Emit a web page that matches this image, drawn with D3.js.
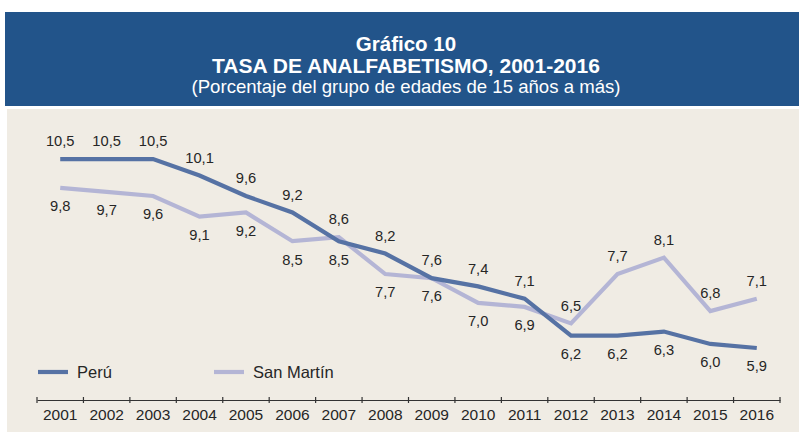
<!DOCTYPE html>
<html>
  <head>
    <meta charset="utf-8">
    <title>Tasa de analfabetismo</title>
    <script src="https://cdnjs.cloudflare.com/ajax/libs/d3/7.8.5/d3.min.js"></script>
    <style>
      body { margin: 0; background: #fff; }
      text { font-family: "Liberation Sans", Arial, sans-serif; }
    </style>
  </head>
  <body>
    <script>
      var years = ["2001","2002","2003","2004","2005","2006","2007","2008",
                   "2009","2010","2011","2012","2013","2014","2015","2016"];
      var peru = [10.5, 10.5, 10.5, 10.1, 9.6, 9.2, 8.5, 8.2, 7.6, 7.4, 7.1, 6.2, 6.2, 6.3, 6.0, 5.9];
      var sanMartin = [9.8, 9.7, 9.6, 9.1, 9.2, 8.5, 8.6, 7.7, 7.6, 7.0, 6.9, 6.5, 7.7, 8.1, 6.8, 7.1];
      // label above (-1) or below (+1) the point
      var peruPos = [-1,-1,-1,-1,-1,-1, 1,-1,-1,-1,-1, 1, 1, 1, 1, 1];
      var smPos   = [ 1, 1, 1, 1, 1, 1,-1, 1, 1, 1, 1,-1,-1,-1,-1,-1];

      var W = 799, H = 432;
      var svg = d3.select("body").append("svg")
        .attr("width", W)
        .attr("height", H);

      // header band
      svg.append("rect").attr("x", 5).attr("y", 12).attr("width", W - 5).attr("height", 94)
        .attr("fill", "#22548a");
      svg.append("rect").attr("x", 7).attr("y", 109).attr("width", W - 7).attr("height", H - 109)
        .attr("fill", "#f0ece4");

      var title = [
        {t: "Gráfico 10", y: 51, size: 20.5, w: "bold"},
        {t: "TASA DE ANALFABETISMO, 2001-2016", y: 73, size: 21, w: "bold"},
        {t: "(Porcentaje del grupo de edades de 15 años a más)", y: 93, size: 18.6, w: "normal"}
      ];
      svg.selectAll(".title").data(title).enter().append("text")
        .attr("x", 406).attr("y", function (d){ return d.y; })
        .attr("text-anchor", "middle")
        .attr("fill", "#fff")
        .style("font-size", function (d){ return d.size + "px"; })
        .style("font-weight", function (d){ return d.w; })
        .text(function (d){ return d.t; });

      var x = d3.scaleBand().domain(years).range([37, 780]);
      var y = d3.scaleLinear().domain([5, 11]).range([385, 138.5]);
      var cx = function (i){ return x(years[i]) + x.bandwidth() / 2; };

      // x axis
      var axis = svg.append("g").attr("transform", "translate(0,400)")
        .call(d3.axisBottom(x).tickSize(0).tickPadding(9));
      axis.select(".domain").attr("stroke", "#333").attr("stroke-width", 1.2);
      axis.selectAll("text").style("font-size", "15.5px").attr("fill", "#262626")
        .style("font-family", "'Liberation Sans', Arial, sans-serif");
      var edges = x.domain().map(function (d){ return x(d); }).concat([780]);
      axis.selectAll(".edge").data(edges).enter().append("line")
        .attr("x1", function (d){ return d; }).attr("x2", function (d){ return d; })
        .attr("y1", -3).attr("y2", 3)
        .attr("stroke", "#333").attr("stroke-width", 1.2);

      var series = [
        {name: "Perú", values: peru, pos: peruPos, color: "#5672a4", lx: 38},
        {name: "San Martín", values: sanMartin, pos: smPos, color: "#b4b5d5", lx: 214}
      ];

      var line = d3.line()
        .x(function (d, i){ return cx(i); })
        .y(function (d){ return y(d); });

      // draw San Martín first so Perú sits on top
      series.slice().reverse().forEach(function (s){
        svg.append("path").datum(s.values)
          .attr("d", line)
          .attr("fill", "none")
          .attr("stroke", s.color)
          .attr("stroke-width", 4.2);
      });

      series.forEach(function (s){
        svg.selectAll(null).data(s.values).enter().append("text")
          .attr("x", function (d, i){ return cx(i); })
          .attr("y", function (d, i){ return y(d) + s.pos[i] * 18; })
          .attr("dy", "0.36em")
          .attr("text-anchor", "middle")
          .attr("fill", "#262626")
          .style("font-size", "14.7px")
          .text(function (d){ return d3.format(".1f")(d).replace(".", ","); });

        svg.append("line")
          .attr("x1", s.lx).attr("x2", s.lx + 30)
          .attr("y1", 372).attr("y2", 372)
          .attr("stroke", s.color).attr("stroke-width", 4.2);
        svg.append("text")
          .attr("x", s.lx + 39).attr("y", 372).attr("dy", "0.36em")
          .attr("fill", "#262626")
          .style("font-size", "16.5px")
          .text(s.name);
      });
    </script>
  </body>
</html>
